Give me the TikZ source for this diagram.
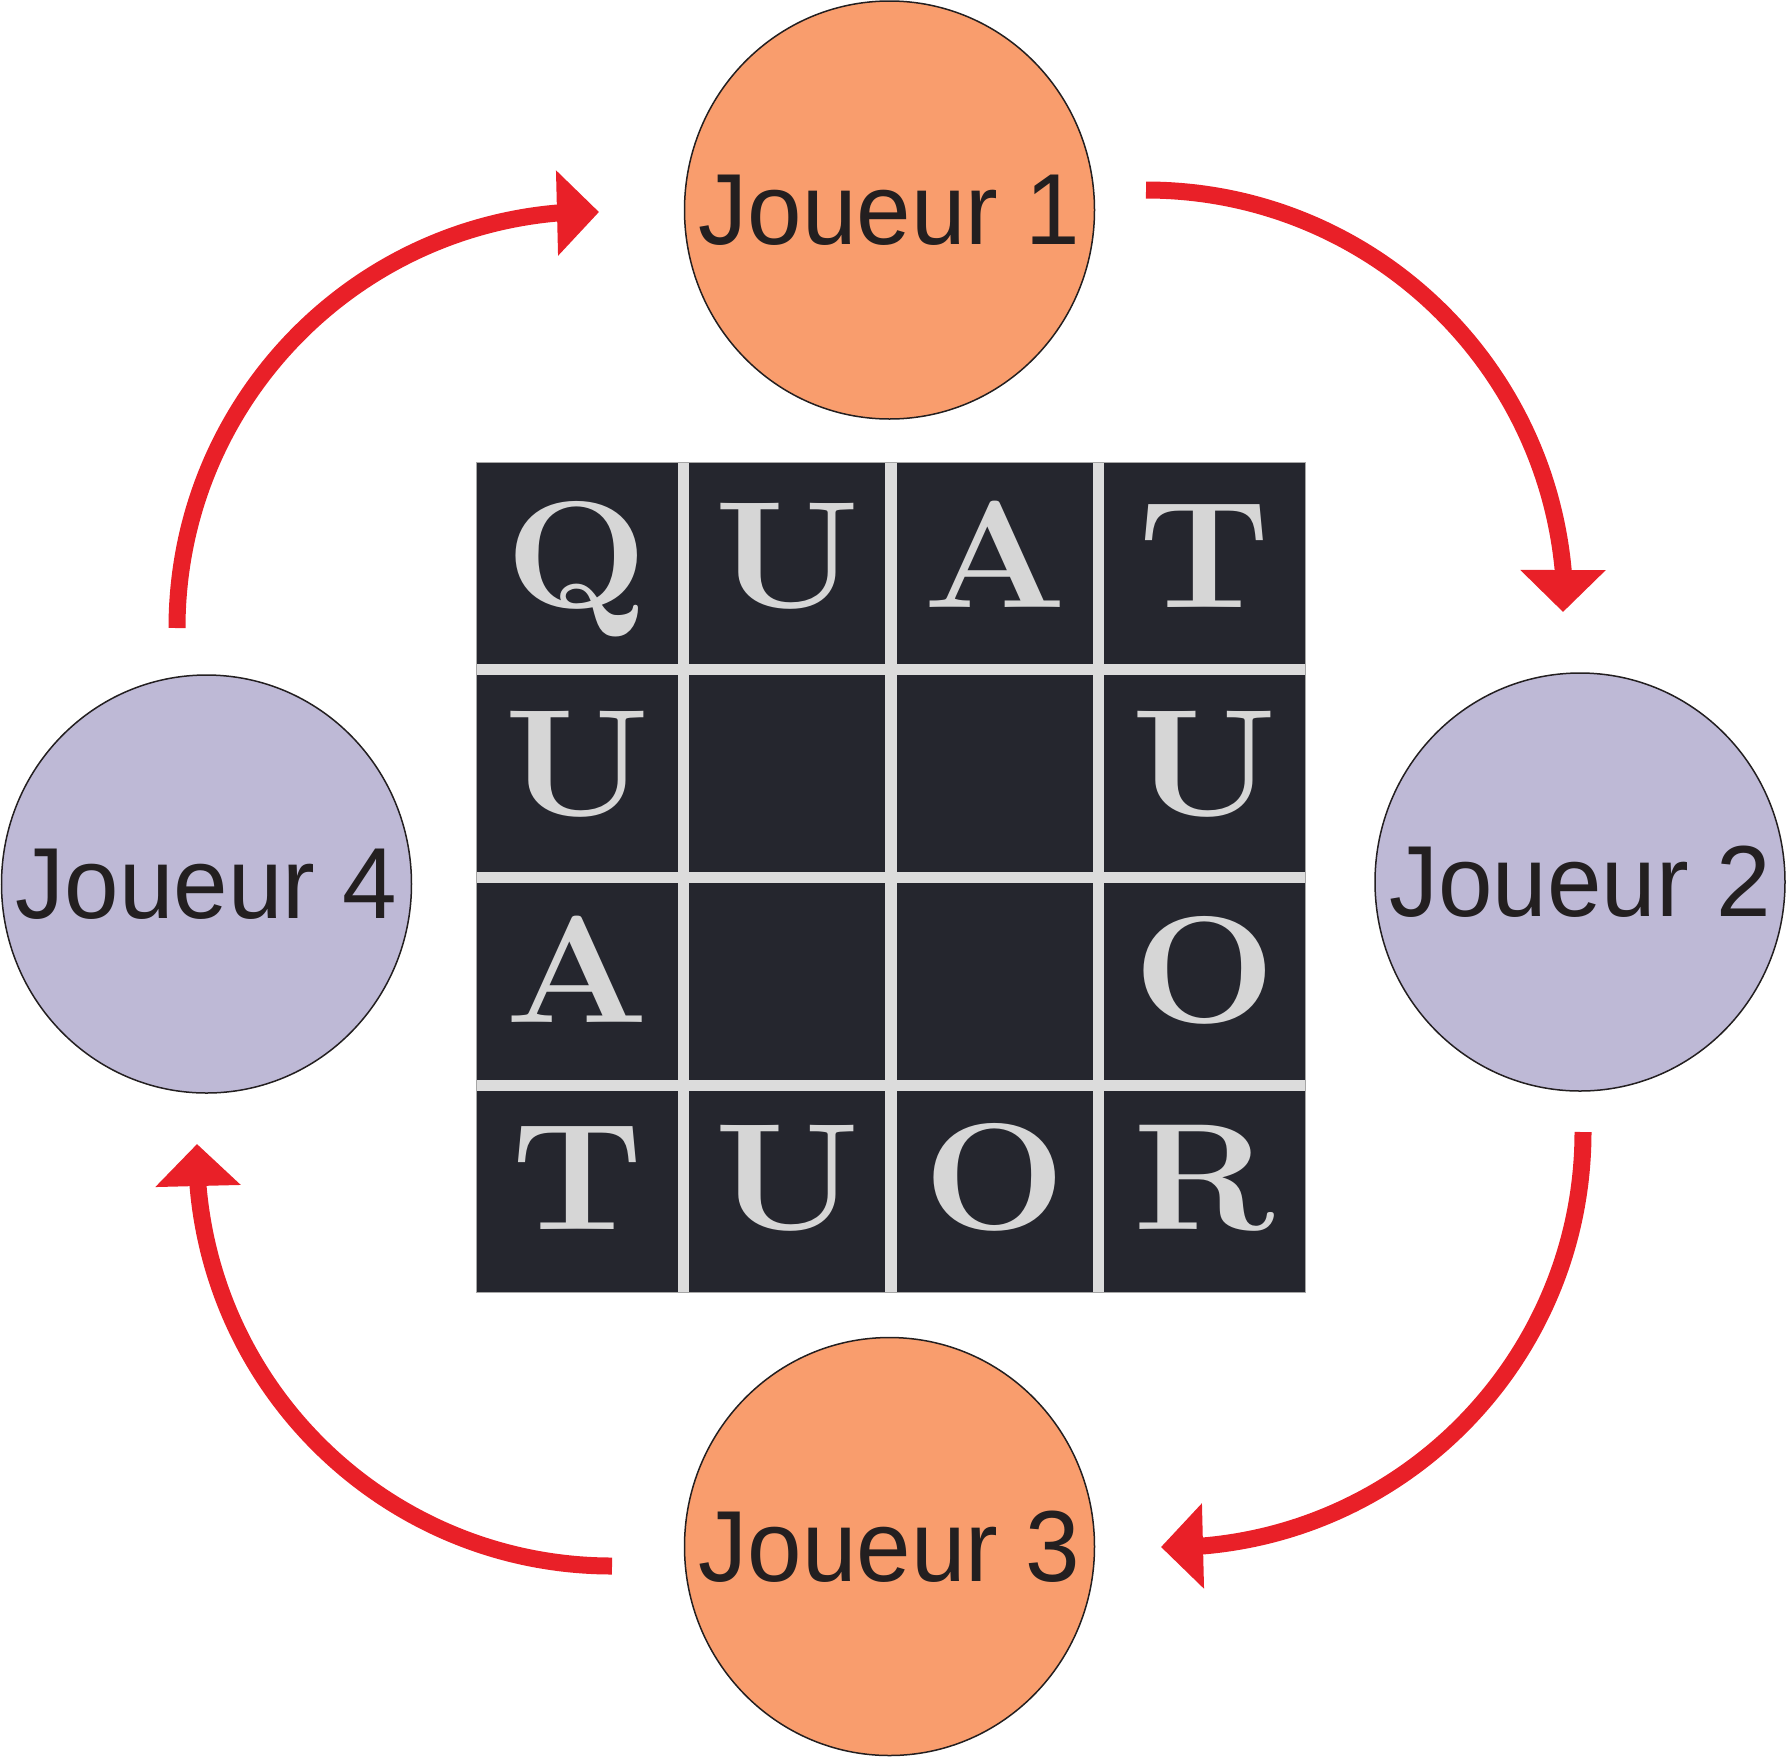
\documentclass[tikz,border=0pt]{standalone}
\usepackage{fontspec}
\usepackage{graphicx}
\newfontfamily\joueurfont{Liberation Sans}
\usetikzlibrary{arrows.meta,shapes.geometric}
\definecolor{orangej}{HTML}{F99D6D}
\definecolor{lavj}{HTML}{BEB9D6}
\definecolor{redarrow}{HTML}{E92028}
\definecolor{boarddark}{HTML}{25262E}
\definecolor{gapgray}{HTML}{DCDCDC}
\definecolor{textdark}{HTML}{231F20}
\definecolor{silver}{HTML}{D6D6D6}
\newcommand{\wideltr}[1]{\scalebox{1.11}[1]{#1}}
\newcommand{\narrowtxt}[1]{\scalebox{0.97}[1]{#1}}
\begin{document}
\begin{tikzpicture}[x=1pt,y=-1pt,
  player/.style={ellipse, draw=textdark, line width=1.5pt, minimum width=410pt, minimum height=418pt, inner sep=0pt},
  ptext/.style={font=\joueurfont\fontsize{101}{101}\selectfont, text=textdark, inner sep=0pt},
  letter/.style={font=\fontsize{152}{152}\selectfont\bfseries, text=silver, inner sep=0pt, anchor=base},
  turn/.style={draw=redarrow, line width=17pt, -{Triangle[width=83pt,length=42pt]}},
  gapbar/.style={fill=gapgray}
]
\useasboundingbox (0,0) rectangle (1786,1757);

% board
\fill[boarddark] (476,462) rectangle (1305,1292);
\fill[gapbar] (678,462) rectangle (689,1292);
\fill[gapbar] (885,462) rectangle (897,1292);
\fill[gapbar] (1093,462) rectangle (1104,1292);
\fill[gapbar] (476,664) rectangle (1305,675);
\fill[gapbar] (476,872) rectangle (1305,883);
\fill[gapbar] (476,1080) rectangle (1305,1091);
\draw[color=gray!70, line width=1pt] (476,462) rectangle (1305,1292);

% letters
\node[letter] (l11) at (577,607) {\wideltr{Q}};
\node[letter] (l12) at (787,607) {\wideltr{U}};
\node[letter] (l13) at (995,607) {\wideltr{A}};
\node[letter] (l14) at (1204.5,607) {\wideltr{T}};
\node[letter] (l21) at (577,815) {\wideltr{U}};
\node[letter] (l24) at (1204.5,815) {\wideltr{U}};
\node[letter] (l31) at (577,1022) {\wideltr{A}};
\node[letter] (l34) at (1204.5,1022) {\wideltr{O}};
\node[letter] (l41) at (577,1229) {\wideltr{T}};
\node[letter] (l42) at (787,1229) {\wideltr{U}};
\node[letter] (l43) at (995,1229) {\wideltr{O}};
\node[letter] (l44) at (1204.5,1229) {\wideltr{R}};

% players
\node[player, fill=orangej] (j1) at (889.5,210) {};
\node[player, fill=lavj] (j2) at (1580,882) {};
\node[player, fill=orangej] (j3) at (889.5,1546.5) {};
\node[player, fill=lavj] (j4) at (206.5,884) {};
\node[ptext] (t1) at (j1.center) {\narrowtxt{Joueur 1}};
\node[ptext] (t2) at (j2.center) {\narrowtxt{Joueur 2}};
\node[ptext] (t3) at (j3.center) {\narrowtxt{Joueur 3}};
\node[ptext] (t4) at (j4.center) {\narrowtxt{Joueur 4}};

% arrows
\coordinate (a1s) at (1146,190);
\coordinate (a1t) at (1563,612);
\coordinate (a2s) at (1583,1132);
\coordinate (a2t) at (1161,1547);
\coordinate (a3s) at (612,1566);
\coordinate (a3t) at (197,1144);
\coordinate (a4s) at (177,628);
\coordinate (a4t) at (599,212);
\draw[turn] (a1s) arc[start angle=270, end angle=354.5, radius=419] -- (a1t);
\draw[turn] (a2s) arc[start angle=0, end angle=85.1, radius=415.5] -- (a2t);
\draw[turn] (a3s) arc[start angle=90, end angle=175.1, radius=415.5] -- (a3t);
\draw[turn] (a4s) arc[start angle=180, end angle=264.96, radius=416.6] -- (a4t);
\end{tikzpicture}
\end{document}
